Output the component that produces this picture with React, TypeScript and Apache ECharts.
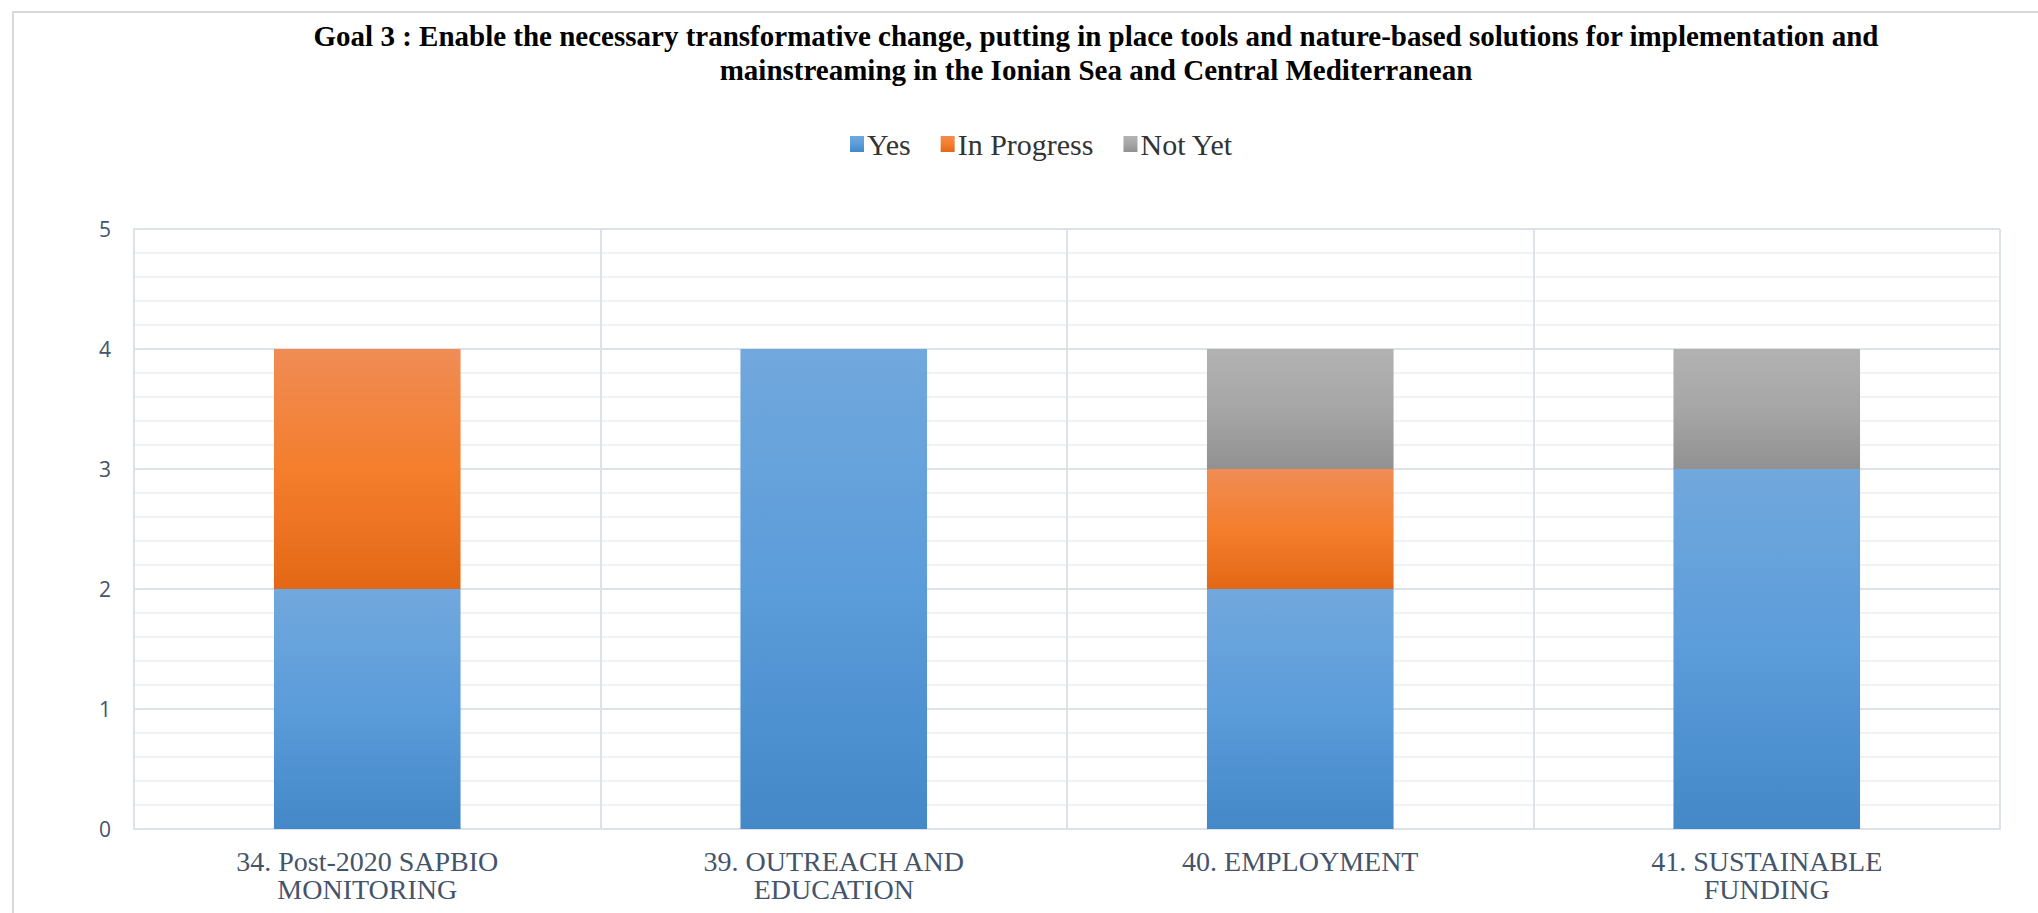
import React, { useEffect, useRef } from "react";
import * as echarts from "echarts";

const titleText =
  "Goal 3 : Enable the necessary transformative change, putting in place tools and nature-based solutions for implementation and\nmainstreaming in the Ionian Sea and Central Mediterranean";
const categories = [
  "34. Post-2020 SAPBIO\nMONITORING",
  "39. OUTREACH AND\nEDUCATION",
  "40. EMPLOYMENT",
  "41. SUSTAINABLE\nFUNDING",
];
const seriesNames = ["Yes", "In Progress", "Not Yet"];
const yesValues = [2, 4, 2, 3];
const inProgressValues = [2, 0, 1, 0];
const notYetValues = [0, 0, 1, 1];
const yTicks = { min: 0, max: 5, interval: 1 };

const grad = (stops: [number, string][]) =>
  new echarts.graphic.LinearGradient(
    0, 0, 0, 1,
    stops.map(([offset, color]) => ({ offset, color }))
  );

const blue = () => grad([[0, "#71A8DD"], [0.5, "#5B9CDA"], [1, "#4488C8"]]);
const orange = () => grad([[0, "#F08C55"], [0.5, "#F47E2C"], [1, "#E36816"]]);
const gray = () => grad([[0, "#B2B2B2"], [0.5, "#A6A6A6"], [1, "#919191"]]);

export default function App() {
  const ref = useRef<HTMLDivElement>(null);
  useEffect(() => {
    if (!ref.current) return;
    const chart = echarts.init(ref.current, undefined, { renderer: "svg" });
    const axisColor = "#DDE2E9";
    chart.setOption({
      animation: false,
      backgroundColor: "#ffffff",
      graphic: [
        {
          type: "rect",
          shape: { x: 13, y: 12, width: 2100, height: 1000 },
          style: { fill: "none", stroke: "#D9D9D9", lineWidth: 2 },
          silent: true,
        },
        {
          type: "text",
          x: 1096,
          y: 19,
          style: {
            text: titleText,
            align: "center",
            verticalAlign: "top",
            fontFamily: "Liberation Serif",
            fontWeight: "bold",
            fontSize: 29,
            lineHeight: 34,
            fill: "#000000",
          },
        },
      ],
      legend: {
        left: 845,
        top: 124,
        itemWidth: 14,
        itemHeight: 16,
        itemGap: 30,
        icon: "rect",
        data: seriesNames,
        textStyle: {
          fontFamily: "Liberation Serif",
          fontSize: 30,
          color: "#333333",
          padding: [0, 0, 0, -2],
        },
      },
      grid: { left: 134, right: 38, top: 229, bottom: 84, containLabel: false },
      xAxis: {
        type: "category",
        data: categories,
        axisLine: { show: true, lineStyle: { color: axisColor, width: 2 } },
        axisTick: { show: false },
        splitLine: { show: true, lineStyle: { color: axisColor, width: 2 } },
        axisLabel: {
          fontFamily: "Liberation Serif",
          fontSize: 28,
          lineHeight: 28,
          color: "#44546A",
          margin: 18,
          interval: 0,
        },
      },
      yAxis: {
        type: "value",
        min: yTicks.min,
        max: yTicks.max,
        interval: yTicks.interval,
        axisLine: { show: true, lineStyle: { color: axisColor, width: 2 } },
        axisTick: { show: false },
        splitLine: { show: true, lineStyle: { color: axisColor, width: 2 } },
        minorTick: { show: false, splitNumber: 5 },
        minorSplitLine: { show: true, lineStyle: { color: "#F1F2F3", width: 2 } },
        axisLabel: {
          fontFamily: "Open Sans",
          fontSize: 21,
          color: "#44546A",
          margin: 23,
        },
      },
      series: [
        {
          name: seriesNames[0],
          type: "bar",
          stack: "total",
          barWidth: "40%",
          data: yesValues,
          itemStyle: { color: blue() },
        },
        {
          name: seriesNames[1],
          type: "bar",
          stack: "total",
          data: inProgressValues,
          itemStyle: { color: orange() },
        },
        {
          name: seriesNames[2],
          type: "bar",
          stack: "total",
          data: notYetValues,
          itemStyle: { color: gray() },
        },
      ],
    });
    return () => chart.dispose();
  }, []);
  return (
    <div
      ref={ref}
      style={{ position: "absolute", left: 0, top: 0, width: 2038, height: 913 }}
    />
  );
}
